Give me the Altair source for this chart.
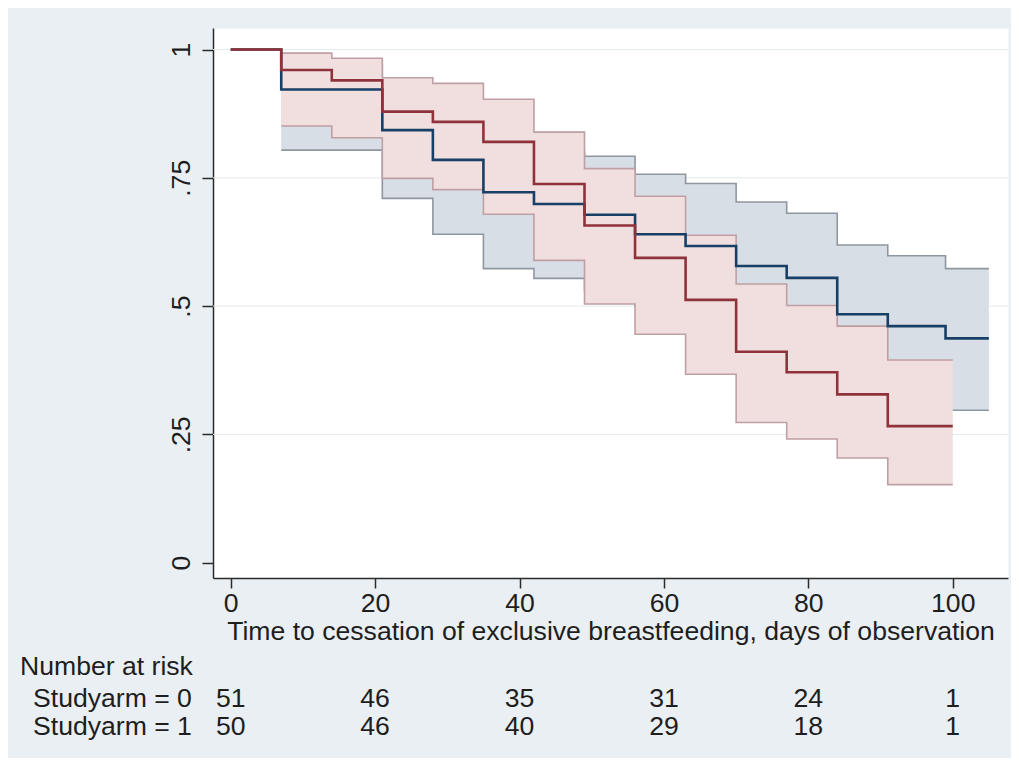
import altair as alt
import pandas as pd

# ---------------- data ----------------
# Kaplan-Meier estimate, Studyarm = 0 (navy)
km_days_0 = [0, 7, 21, 28, 35, 42, 49, 56, 63, 70, 77, 84, 91, 99, 105]
km_surv_0 = [1.0, 0.922, 0.843, 0.785, 0.722, 0.699, 0.678, 0.640, 0.617, 0.578, 0.555, 0.484, 0.461, 0.437, 0.437]
# 95% CI, Studyarm = 0
ci_days_0 = [7, 21, 28, 35, 42, 49, 56, 63, 70, 77, 84, 91, 99, 105]
ci_upper_0 = [0.970, 0.910, 0.870, 0.820, 0.800, 0.792, 0.757, 0.739, 0.703, 0.681, 0.619, 0.598, 0.573, 0.573]
ci_lower_0 = [0.804, 0.710, 0.640, 0.573, 0.554, 0.530, 0.500, 0.480, 0.440, 0.410, 0.340, 0.320, 0.297, 0.297]

# Kaplan-Meier estimate, Studyarm = 1 (maroon)
km_days_1 = [0, 7, 14, 21, 28, 35, 42, 49, 56, 63, 70, 77, 84, 91, 100]
km_surv_1 = [1.0, 0.960, 0.940, 0.879, 0.859, 0.820, 0.738, 0.657, 0.594, 0.512, 0.411, 0.371, 0.328, 0.266, 0.266]
# 95% CI, Studyarm = 1
ci_days_1 = [7, 14, 21, 28, 35, 42, 49, 56, 63, 70, 77, 84, 91, 100]
ci_upper_1 = [0.993, 0.983, 0.945, 0.934, 0.903, 0.839, 0.768, 0.714, 0.638, 0.543, 0.501, 0.461, 0.395, 0.395]
ci_lower_1 = [0.851, 0.828, 0.749, 0.727, 0.679, 0.589, 0.504, 0.445, 0.367, 0.273, 0.241, 0.204, 0.152, 0.152]

# axis ticks
x_ticks = [0, 20, 40, 60, 80, 100]
y_ticks = [0, 0.25, 0.5, 0.75, 1]
y_tick_labels = ["0", ".25", ".5", ".75", "1"]
grid_values = [0.25, 0.5, 0.75, 1]

# number at risk table
risk_days = [0, 20, 40, 60, 80, 100]
risk_0 = [51, 46, 35, 31, 24, 1]
risk_1 = [50, 46, 40, 29, 18, 1]
risk_title = "Number at risk"
risk_labels = ["Studyarm = 0", "Studyarm = 1"]
x_title = "Time to cessation of exclusive breastfeeding, days of observation"

# ---------------- styling ----------------
FONT = "Liberation Sans"
FS = 26.6
NAVY = "#183f66"
MAROON = "#90323a"
BAND0_FILL = "#d8dee6"
BAND0_LINE = "#8e979f"
BAND1_FILL = "#f1dfe0"
BAND1_LINE = "#bf9fa3"
BG = "#e9eff2"
AXIS_COLOR = "#2b2b2b"
TEXT_COLOR = "#1e1e1e"

km0 = pd.DataFrame({"t": km_days_0, "s": km_surv_0})
km1 = pd.DataFrame({"t": km_days_1, "s": km_surv_1})
ci0 = pd.DataFrame({"t": ci_days_0, "hi": ci_upper_0, "lo": ci_lower_0})
ci1 = pd.DataFrame({"t": ci_days_1, "hi": ci_upper_1, "lo": ci_lower_1})
grid_df = pd.DataFrame({"v": grid_values})
risk_df0 = pd.DataFrame({"t": risk_days, "n": [str(v) for v in risk_0]})
risk_df1 = pd.DataFrame({"t": risk_days, "n": [str(v) for v in risk_1]})

label_expr = " : ".join(
    f"datum.value == {v} ? '{l}'" for v, l in zip(y_ticks, y_tick_labels)
) + " : ''"

x_scale = alt.Scale(domain=[-2.45, 107.65], nice=False, zero=False)
y_scale = alt.Scale(domain=[-0.03, 1.042], nice=False, zero=False)

x_axis = alt.Axis(
    values=x_ticks, grid=False, tickSize=10, tickWidth=1.5, tickColor=AXIS_COLOR,
    domainColor=AXIS_COLOR, domainWidth=1.5,
    labelFont=FONT, labelFontSize=FS, labelColor=TEXT_COLOR, labelPadding=2,
    title=x_title, titleFont=FONT, titleFontSize=FS, titleFontWeight="normal",
    titleColor=TEXT_COLOR, titlePadding=2,
)
y_axis = alt.Axis(
    values=y_ticks, labelExpr=label_expr, grid=False, tickSize=11, tickWidth=1.5,
    tickColor=AXIS_COLOR, domainColor=AXIS_COLOR, domainWidth=1.5,
    labelFont=FONT, labelFontSize=FS, labelColor=TEXT_COLOR, labelAngle=270,
    labelAlign="center", labelBaseline="alphabetic", labelPadding=13, title=None,
)

X = alt.X("t:Q", scale=x_scale, axis=x_axis)

grid = alt.Chart(grid_df).mark_rule(color="#e3eaee", strokeWidth=1).encode(
    y=alt.Y("v:Q", scale=y_scale, axis=y_axis)
)


def band(df, fill, line):
    base = alt.Chart(df)
    area = base.mark_area(interpolate="step-after", color=fill, opacity=1).encode(
        x=X, y=alt.Y("hi:Q", scale=y_scale, axis=y_axis), y2="lo:Q"
    )
    up = base.mark_line(interpolate="step-after", color=line, strokeWidth=1.6).encode(
        x=X, y=alt.Y("hi:Q", scale=y_scale, axis=y_axis)
    )
    lo = base.mark_line(interpolate="step-after", color=line, strokeWidth=1.6).encode(
        x=X, y=alt.Y("lo:Q", scale=y_scale, axis=y_axis)
    )
    return [area, up, lo]


def km_line(df, color):
    return alt.Chart(df).mark_line(interpolate="step-after", color=color, strokeWidth=2.6).encode(
        x=X, y=alt.Y("s:Q", scale=y_scale, axis=y_axis)
    )


text_props = dict(font=FONT, fontSize=FS, color=TEXT_COLOR, baseline="alphabetic")

risk_title_mark = alt.Chart(pd.DataFrame({"label": [risk_title]})).mark_text(
    align="left", **text_props
).encode(x=alt.value(-193), y=alt.value(647), text="label:N")

row_label_0 = alt.Chart(pd.DataFrame({"label": [risk_labels[0]]})).mark_text(
    align="left", **text_props
).encode(x=alt.value(-180), y=alt.value(679), text="label:N")
row_label_1 = alt.Chart(pd.DataFrame({"label": [risk_labels[1]]})).mark_text(
    align="left", **text_props
).encode(x=alt.value(-180), y=alt.value(707), text="label:N")

risk_row_0 = alt.Chart(risk_df0).mark_text(align="center", **text_props).encode(
    x=X, y=alt.value(679), text="n:N"
)
risk_row_1 = alt.Chart(risk_df1).mark_text(align="center", **text_props).encode(
    x=X, y=alt.value(707), text="n:N"
)

layers = [grid] + band(ci0, BAND0_FILL, BAND0_LINE) + band(ci1, BAND1_FILL, BAND1_LINE) + [
    km_line(km0, NAVY),
    km_line(km1, MAROON),
    risk_title_mark, row_label_0, row_label_1, risk_row_0, risk_row_1,
]

chart = alt.layer(*layers).properties(
    width=795,
    height=550,
    autosize=alt.AutoSizeParams(type="none"),
    padding={"left": 205, "top": 20, "right": 3, "bottom": 180},
    background=BG,
).configure_view(fill="white", stroke="transparent")

chart.save("out.html", embed_options={"renderer": "svg", "actions": False})
